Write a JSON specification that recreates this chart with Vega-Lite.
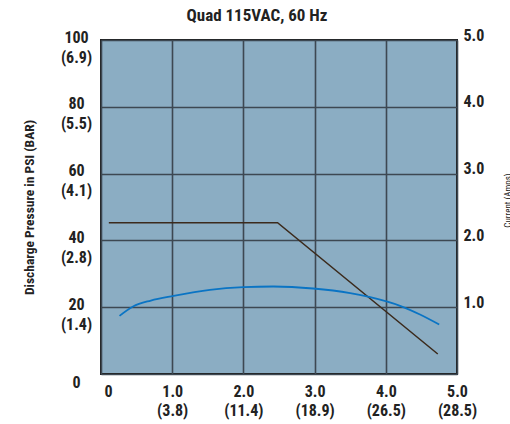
{
  "$schema": "https://vega.github.io/schema/vega-lite/v6.json",
  "width": 356,
  "height": 334,
  "autosize": {"type": "none"},
  "padding": {"left": 101, "top": 40, "right": 53, "bottom": 50},
  "background": "white",
  "config": {
    "font": "Roboto Condensed, DejaVu Sans Condensed, Roboto, sans-serif",
    "view": {"fill": "#8badc3", "stroke": "#1e1e1e", "strokeWidth": 2},
    "axis": {"labelFont": "Roboto Condensed, DejaVu Sans Condensed, Roboto, sans-serif", "titleFont": "Roboto Condensed, DejaVu Sans Condensed, Roboto, sans-serif", "labelColor": "#222", "titleColor": "#222"}
  },
  "title": {
    "text": "Quad 115VAC, 60 Hz",
    "font": "Roboto Condensed, DejaVu Sans Condensed, Roboto, sans-serif",
    "fontSize": 17,
    "fontWeight": "bold",
    "color": "#222",
    "anchor": "middle",
    "frame": "group",
    "dx": -22,
    "dy": 12,
    "offset": 14
  },
  "datasets": {
    "pressure": [
      {"flow": 0.11, "psi": 45.3},
      {"flow": 2.48, "psi": 45.3},
      {"flow": 4.73, "psi": 6.0}
    ],
    "current": [
      {"flow": 0.26, "amps": 0.87},
      {"flow": 0.45, "amps": 1.01},
      {"flow": 0.7, "amps": 1.1},
      {"flow": 1.02, "amps": 1.17},
      {"flow": 1.53, "amps": 1.26},
      {"flow": 2.0, "amps": 1.3},
      {"flow": 2.42, "amps": 1.31},
      {"flow": 2.98, "amps": 1.28},
      {"flow": 3.5, "amps": 1.21},
      {"flow": 3.78, "amps": 1.15},
      {"flow": 4.2, "amps": 1.02},
      {"flow": 4.48, "amps": 0.89},
      {"flow": 4.75, "amps": 0.74}
    ]
  },
  "layer": [
    {
      "data": {"name": "pressure"},
      "mark": {"type": "line", "color": "#3b2a1c", "strokeWidth": 1.5, "clip": true},
      "encoding": {
        "x": {
          "field": "flow", "type": "quantitative",
          "scale": {"domain": [0, 5], "nice": false, "zero": false},
          "axis": {
            "title": null,
            "values": [0, 1, 2, 3, 4, 5],
            "gridValues": [1, 2, 3, 4],
            "grid": true, "gridColor": "#3d4852", "gridWidth": 1.6,
            "domain": false, "ticks": false,
            "labelFontSize": 16, "labelFontWeight": "bold",
            "labelPadding": 9, "labelLineHeight": 19,
            "labelAlign": "center",
            "labelOffset": {"condition": {"test": "datum.value == 0", "value": 7}, "value": 0},
            "labelFlush": false, "labelOverlap": false,
            "labelExpr": "datum.value == 0 ? '0' : datum.value == 1 ? ['1.0','(3.8)'] : datum.value == 2 ? ['2.0','(11.4)'] : datum.value == 3 ? ['3.0','(18.9)'] : datum.value == 4 ? ['4.0','(26.5)'] : ['5.0','(28.5)']"
          }
        },
        "y": {
          "field": "psi", "type": "quantitative",
          "scale": {"domain": [0, 100], "nice": false},
          "axis": {
            "title": "Discharge Pressure in PSI (BAR)",
            "titleFontSize": 13.5, "titleFontWeight": "bold",
            "titlePadding": 24,
            "values": [0, 20, 40, 60, 80, 100],
            "gridValues": [20, 40, 60, 80],
            "grid": true, "gridColor": "#3d4852", "gridWidth": 1.6,
            "domain": false, "ticks": false,
            "labelFontSize": 16, "labelFontWeight": "bold",
            "labelAlign": "center", "labelBaseline": "middle",
            "labelPadding": 25, "labelLineHeight": 20,
            "labelOffset": {"condition": {"test": "datum.value == 0", "value": 8}, "value": -3},
            "labelFlush": false, "labelOverlap": false,
            "labelExpr": "datum.value == 0 ? '0' : datum.value == 20 ? ['20','(1.4)'] : datum.value == 40 ? ['40','(2.8)'] : datum.value == 60 ? ['60','(4.1)'] : datum.value == 80 ? ['80','(5.5)'] : ['100','(6.9)']"
          }
        }
      }
    },
    {
      "data": {"name": "current"},
      "mark": {"type": "line", "color": "#0a74c4", "strokeWidth": 1.8, "interpolate": "monotone", "clip": true},
      "encoding": {
        "x": {"field": "flow", "type": "quantitative"},
        "y": {
          "field": "amps", "type": "quantitative",
          "scale": {"domain": [0, 5], "nice": false},
          "axis": {
            "orient": "right",
            "title": "Current (Amps)",
            "titleFontSize": 9, "titleFontWeight": "normal", "titleAngle": -90,
            "titleX": 55, "titleY": 160,
            "values": [1, 2, 3, 4, 5],
            "format": ".1f",
            "grid": false, "domain": false, "ticks": false,
            "labelFontSize": 16, "labelFontWeight": "bold",
            "labelAlign": "left", "labelPadding": 6, "labelOffset": -5,
            "labelFlush": false, "labelOverlap": false
          }
        }
      }
    }
  ],
  "resolve": {"scale": {"y": "independent"}}
}
